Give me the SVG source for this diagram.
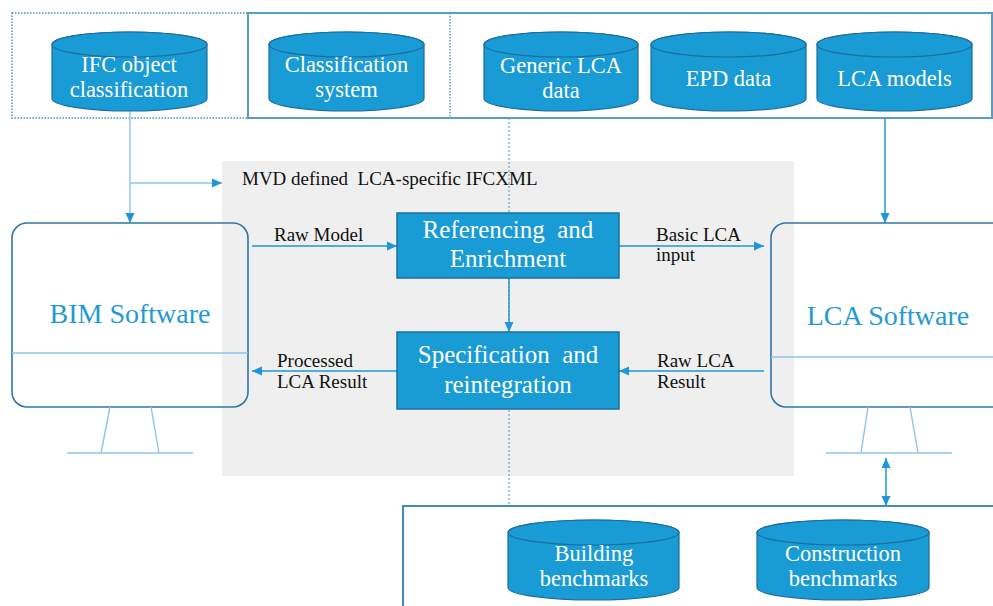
<svg xmlns="http://www.w3.org/2000/svg" width="993" height="606" viewBox="0 0 993 606">
<defs>
<marker id="ah" markerUnits="userSpaceOnUse" markerWidth="10" markerHeight="10" viewBox="0 0 10 10" refX="10" refY="5" orient="auto-start-reverse"><path d="M0,0.5 L10,5 L0,9.5 z" fill="#1f97d6"/></marker>
</defs>
<style>
text{font-family:"Liberation Serif","Tinos","Times New Roman","Nimbus Roman","DejaVu Serif",serif}
.cyl{fill:#199bd5;stroke:#1c6e9e;stroke-width:1.2}
.ct{font-size:22.5px;fill:#ffffff;text-anchor:middle}
.lbl{font-size:19px;fill:#111111}
.box{fill:#199bd5;stroke:#1c6e9e;stroke-width:1.5}
.bt{font-size:25px;fill:#ffffff;text-anchor:middle}
.mon{fill:none;stroke:#2f76a9;stroke-width:1.6}
.light{stroke:#8cc6ea;stroke-width:1.4;fill:none}
.arr{stroke:#1f97d6;stroke-width:1.5;fill:none}
.mt{font-size:28px;fill:#1f9ad6;text-anchor:middle}
</style>
<rect x="0" y="0" width="993" height="606" fill="#ffffff"/>
<g id="mvd-area">
<rect x="222" y="161" width="572" height="315" fill="#efefef"/>
<text class="lbl" x="242" y="185" font-size="18.5" xml:space="preserve">MVD defined  LCA-specific IFCXML</text>
</g>
<g id="top-frames">
<rect x="12" y="13" width="236" height="105" fill="none" stroke="#4a8fc2" stroke-width="1.5" stroke-dasharray="1.5 1.5"/>
<rect x="248" y="13" width="744" height="105" fill="none" stroke="#5b9bc8" stroke-width="2"/>
<line x1="450" y1="13" x2="450" y2="118" stroke="#5b9bc8" stroke-width="1.5" stroke-dasharray="1.5 1.5"/>
</g>
<g id="bottom-frame">
<rect x="403" y="506" width="620" height="130" fill="none" stroke="#2e7fbf" stroke-width="1.8"/>
</g>
<g id="connectors">
<line x1="509" y1="118" x2="509" y2="506" stroke="#5fa8d3" stroke-width="1.2" stroke-dasharray="2 2"/>
<line x1="130" y1="111" x2="130" y2="223" class="light" marker-end="url(#ah)"/>
<line x1="130" y1="183" x2="222" y2="183" class="light" marker-end="url(#ah)"/>
<line x1="885" y1="118" x2="885" y2="223" class="arr" marker-end="url(#ah)"/>
<line x1="252" y1="246" x2="397" y2="246" class="arr" marker-end="url(#ah)"/>
<line x1="619" y1="246" x2="764" y2="246" class="arr" marker-end="url(#ah)"/>
<line x1="509" y1="278" x2="509" y2="332" class="arr" marker-end="url(#ah)"/>
<line x1="397" y1="371" x2="252" y2="371" class="arr" marker-end="url(#ah)"/>
<line x1="764" y1="371" x2="619" y2="371" class="arr" marker-end="url(#ah)"/>
<line x1="886" y1="458" x2="886" y2="506" class="arr" marker-start="url(#ah)" marker-end="url(#ah)"/>
<text class="lbl" x="274" y="241">Raw Model</text>
<text class="lbl" x="277" y="367">Processed</text>
<text class="lbl" x="277" y="388">LCA Result</text>
<text class="lbl" x="656" y="241">Basic LCA</text>
<text class="lbl" x="656" y="261">input</text>
<text class="lbl" x="657" y="367">Raw LCA</text>
<text class="lbl" x="657" y="388">Result</text>
</g>
<g id="ifc-object-classification">
<path class="cyl" d="M52,44.5 A77.5,12.5 0 0 1 207,44.5 L207,98.5 A77.5,12.5 0 0 1 52,98.5 Z"/>
<ellipse class="cyl" cx="129.5" cy="44.5" rx="77.5" ry="12.5"/>
<text class="ct" x="129" y="72">IFC object</text>
<text class="ct" x="129" y="97">classification</text>
</g>
<g id="classification-system">
<path class="cyl" d="M269,44.5 A77.5,12.5 0 0 1 424,44.5 L424,98.5 A77.5,12.5 0 0 1 269,98.5 Z"/>
<ellipse class="cyl" cx="346.5" cy="44.5" rx="77.5" ry="12.5"/>
<text class="ct" x="346.5" y="72">Classification</text>
<text class="ct" x="346.5" y="97">system</text>
</g>
<g id="generic-lca-data">
<path class="cyl" d="M484,44.5 A77,12.5 0 0 1 638,44.5 L638,98.5 A77,12.5 0 0 1 484,98.5 Z"/>
<ellipse class="cyl" cx="561" cy="44.5" rx="77" ry="12.5"/>
<text class="ct" x="561" y="73">Generic LCA</text>
<text class="ct" x="561" y="98">data</text>
</g>
<g id="epd-data">
<path class="cyl" d="M651,44.5 A77.5,12.5 0 0 1 806,44.5 L806,98.5 A77.5,12.5 0 0 1 651,98.5 Z"/>
<ellipse class="cyl" cx="728.5" cy="44.5" rx="77.5" ry="12.5"/>
<text class="ct" x="728.5" y="86">EPD data</text>
</g>
<g id="lca-models">
<path class="cyl" d="M817,44.5 A77.5,12.5 0 0 1 972,44.5 L972,98.5 A77.5,12.5 0 0 1 817,98.5 Z"/>
<ellipse class="cyl" cx="894.5" cy="44.5" rx="77.5" ry="12.5"/>
<text class="ct" x="894.5" y="86">LCA models</text>
</g>
<g id="bim-software">
<rect class="mon" x="12" y="223" width="236" height="184" rx="15" ry="15"/>
<line class="light" x1="12" y1="353" x2="248" y2="353"/>
<line class="light" x1="110" y1="407" x2="101" y2="453"/>
<line class="light" x1="151" y1="407" x2="159" y2="453"/>
<line class="light" x1="67" y1="453" x2="193" y2="453"/>
<text class="mt" x="130" y="323">BIM Software</text>
</g>
<g id="lca-software">
<rect class="mon" x="771" y="223" width="250" height="184" rx="15" ry="15"/>
<line class="light" x1="771" y1="357" x2="993" y2="357"/>
<line class="light" x1="868" y1="407" x2="861" y2="453"/>
<line class="light" x1="910" y1="407" x2="918" y2="453"/>
<line class="light" x1="826" y1="453" x2="952" y2="453"/>
<text class="mt" x="888" y="325">LCA Software</text>
</g>
<g id="referencing-enrichment">
<rect class="box" x="397" y="213" width="222" height="65"/>
<text class="bt" x="508" y="238" xml:space="preserve">Referencing  and</text>
<text class="bt" x="508" y="267">Enrichment</text>
</g>
<g id="specification-reintegration">
<rect class="box" x="397" y="332" width="222" height="77"/>
<text class="bt" x="508" y="363" xml:space="preserve">Specification  and</text>
<text class="bt" x="508" y="393">reintegration</text>
</g>
<g id="building-benchmarks">
<path class="cyl" d="M508,532.5 A85.5,12.5 0 0 1 679,532.5 L679,587.5 A85.5,12.5 0 0 1 508,587.5 Z"/>
<ellipse class="cyl" cx="593.5" cy="532.5" rx="85.5" ry="12.5"/>
<text class="ct" x="594" y="561">Building</text>
<text class="ct" x="594" y="586">benchmarks</text>
</g>
<g id="construction-benchmarks">
<path class="cyl" d="M757,532.5 A86,12.5 0 0 1 929,532.5 L929,587.5 A86,12.5 0 0 1 757,587.5 Z"/>
<ellipse class="cyl" cx="843" cy="532.5" rx="86" ry="12.5"/>
<text class="ct" x="843" y="561">Construction</text>
<text class="ct" x="843" y="586">benchmarks</text>
</g>
</svg>
